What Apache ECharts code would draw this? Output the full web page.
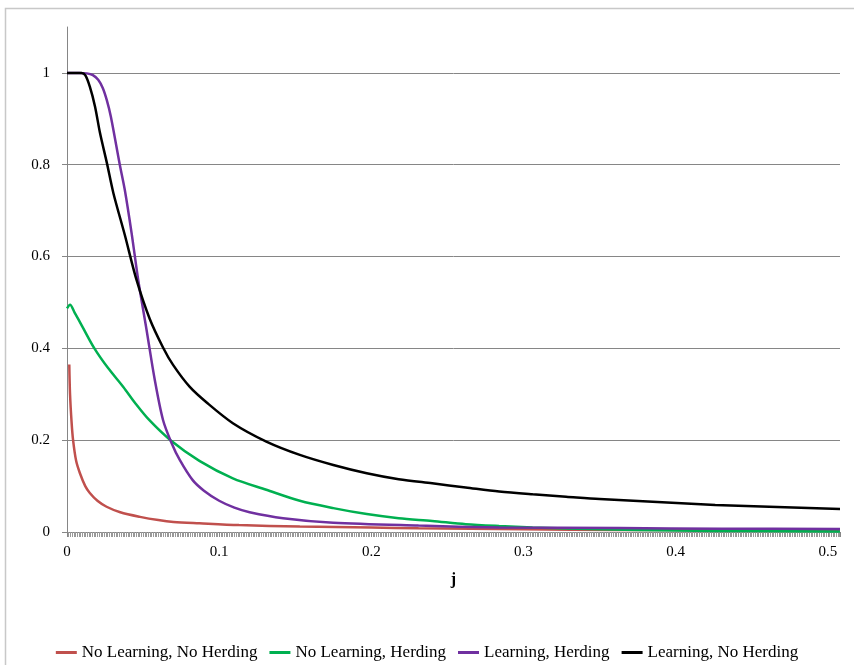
<!DOCTYPE html>
<html>
<head>
<meta charset="utf-8">
<script src="https://cdn.jsdelivr.net/npm/echarts@6/dist/echarts.min.js"></script>
<style>
html,body{margin:0;padding:0;background:#fff;}
#chart{width:854px;height:665px;}
</style>
</head>
<body>
<div id="chart"></div>
<script>
// Series names
const seriesNames = ['No Learning, No Herding', 'No Learning, Herding', 'Learning, Herding', 'Learning, No Herding'];

// No Learning, No Herding (red)
const redX = [0.0015, 0.002, 0.003, 0.004, 0.006, 0.0085, 0.012, 0.015, 0.02, 0.026, 0.035, 0.048, 0.06, 0.07, 0.087, 0.113, 0.153, 0.2, 0.231, 0.3, 0.363, 0.43, 0.508];
const redY = [0.365, 0.30, 0.24, 0.20, 0.155, 0.128, 0.10, 0.085, 0.068, 0.055, 0.043, 0.033, 0.026, 0.022, 0.019, 0.015, 0.012, 0.010, 0.008, 0.006, 0.0045, 0.004, 0.0035];

// No Learning, Herding (green)
const greenX = [0, 0.002, 0.005, 0.01, 0.018, 0.027, 0.037, 0.045, 0.054, 0.068, 0.087, 0.109, 0.131, 0.153, 0.175, 0.197, 0.218, 0.24, 0.262, 0.284, 0.306, 0.35, 0.40, 0.45, 0.508];
const greenY = [0.487, 0.495, 0.478, 0.448, 0.40, 0.357, 0.316, 0.28, 0.244, 0.2, 0.155, 0.117, 0.092, 0.068, 0.052, 0.039, 0.030, 0.024, 0.017, 0.013, 0.010, 0.006, 0.003, 0.002, 0.001];

// Learning, Herding (purple)
const purpleX = [0, 0.008, 0.013, 0.017, 0.0205, 0.0235, 0.0262, 0.0288, 0.0347, 0.038, 0.0425, 0.0468, 0.0523, 0.0577, 0.0631, 0.0687, 0.0741, 0.0826, 0.09, 0.1, 0.11, 0.12, 0.142, 0.175, 0.231, 0.284, 0.363, 0.43, 0.508];
const purpleY = [1, 1, 0.999, 0.995, 0.985, 0.967, 0.94, 0.905, 0.80, 0.745, 0.65, 0.549, 0.44, 0.331, 0.244, 0.194, 0.157, 0.113, 0.090, 0.068, 0.053, 0.043, 0.030, 0.020, 0.014, 0.010, 0.0085, 0.0072, 0.0065];

// Learning, No Herding (black)
const blackX = [0, 0.0096, 0.012, 0.015, 0.0184, 0.0217, 0.0262, 0.0305, 0.038, 0.0457, 0.0544, 0.0631, 0.0697, 0.0807, 0.0918, 0.109, 0.131, 0.153, 0.175, 0.197, 0.218, 0.24, 0.262, 0.284, 0.306, 0.328, 0.35, 0.426, 0.508];
const blackY = [1, 1, 0.995, 0.97, 0.927, 0.869, 0.804, 0.738, 0.647, 0.549, 0.464, 0.402, 0.364, 0.316, 0.282, 0.237, 0.197, 0.168, 0.146, 0.128, 0.115, 0.106, 0.097, 0.088, 0.082, 0.077, 0.072, 0.059, 0.050];

const colors = ['#C0504D', '#00B050', '#7030A0', '#000000'];
const xs = [redX, greenX, purpleX, blackX];
const ys = [redY, greenY, purpleY, blackY];

const FONT = '"Liberation Serif", "Times New Roman", serif';

const chart = echarts.init(document.getElementById('chart'), null, {renderer: 'canvas'});
chart.setOption({
  animation: false,
  backgroundColor: '#fff',
  graphic: [{
    type: 'rect', z: -10, silent: true,
    shape: {x: 5.5, y: 8.5, width: 900, height: 700},
    style: {fill: 'none', stroke: '#C8C8C8', lineWidth: 1.5}
  }],
  grid: {left: 67, right: 14, top: 27, bottom: 133},
  legend: {
    data: seriesNames,
    top: 639,
    left: 'center',
    icon: 'rect',
    itemWidth: 21,
    itemHeight: 3,
    itemGap: 12,
    textStyle: {fontFamily: FONT, fontSize: 17, color: '#000'}
  },
  xAxis: {
    type: 'value', min: 0, max: 0.508, interval: 0.1,
    name: 'j', nameLocation: 'middle', nameGap: 40,
    nameTextStyle: {fontFamily: FONT, fontSize: 16, fontWeight: 'bold', color: '#000'},
    axisLine: {lineStyle: {color: '#868686', width: 1}},
    axisTick: {show: true, length: 5, lineStyle: {color: '#868686'}},
    minorTick: {show: true, splitNumber: 90, length: 5, lineStyle: {color: '#999999', width: 1}},
    axisLabel: {showMaxLabel: false, margin: 13, fontFamily: FONT, fontSize: 15, color: '#000'},
    splitLine: {show: false}
  },
  yAxis: {
    type: 'value', min: 0, max: 1.1, interval: 0.2,
    axisLine: {show: true, lineStyle: {color: '#868686', width: 1}},
    axisTick: {show: true, length: 5, lineStyle: {color: '#868686'}},
    axisLabel: {showMaxLabel: false, margin: 17, fontFamily: FONT, fontSize: 15, color: '#000'},
    splitLine: {show: true, showMaxLine: false, lineStyle: {color: '#868686', width: 1}}
  },
  series: seriesNames.map((name, i) => ({
    name: name,
    type: 'line',
    showSymbol: false,
    smooth: 0.3,
    itemStyle: {color: colors[i]},
    lineStyle: {color: colors[i], width: 2.5},
    data: xs[i].map((x, k) => [x, ys[i][k]])
  }))
});
</script>
</body>
</html>
